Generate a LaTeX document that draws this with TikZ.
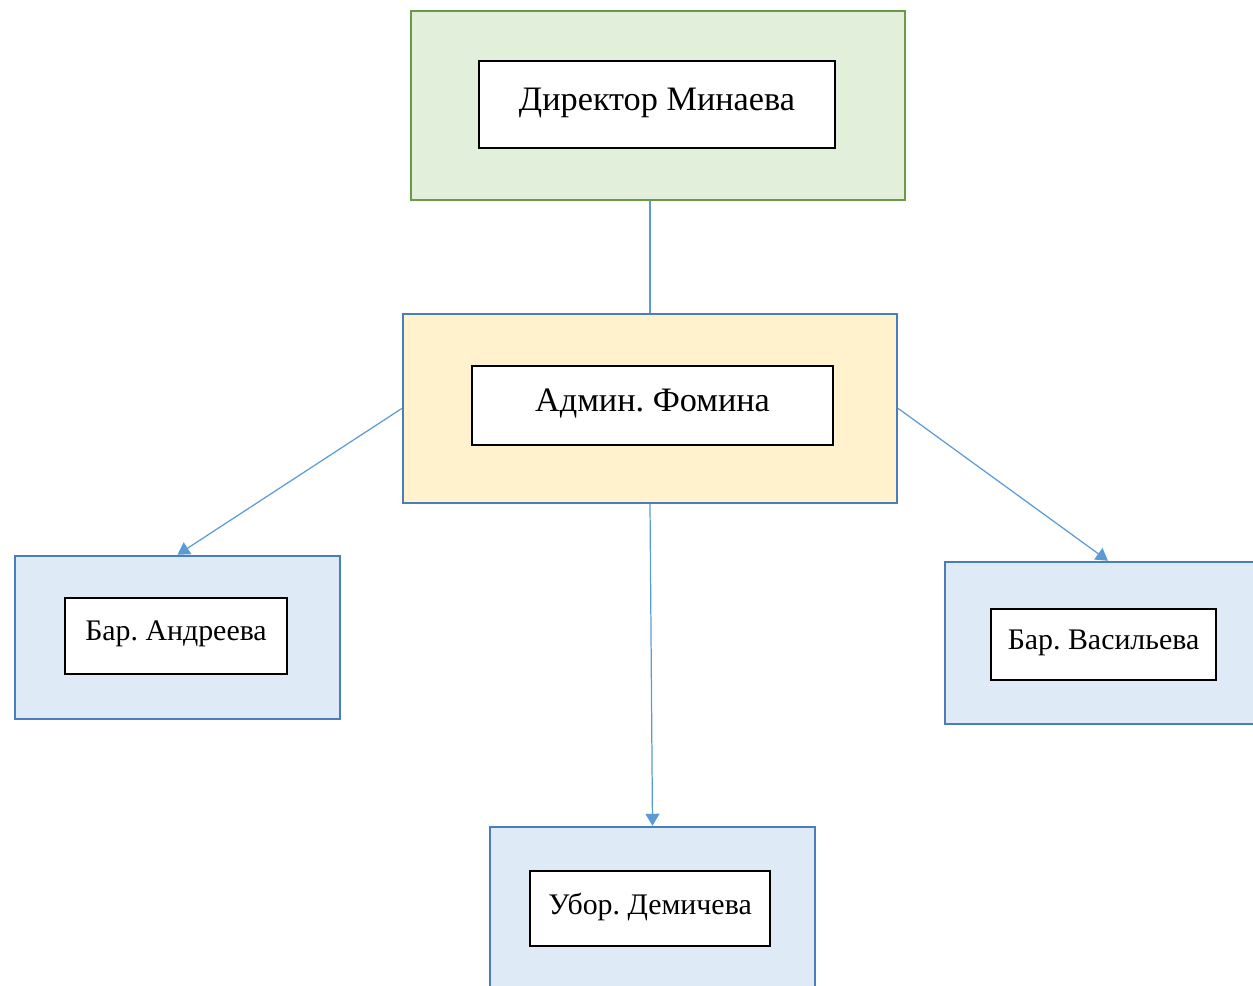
\documentclass[tikz,border=0pt]{standalone}
\usepackage{fontspec}
\setmainfont{Liberation Serif}
\frenchspacing
\usetikzlibrary{arrows.meta, positioning, calc}

\definecolor{dirfill}{HTML}{E2EFDA}
\definecolor{dirline}{HTML}{6A9A48}
\definecolor{admfill}{HTML}{FFF2CC}
\definecolor{staffill}{HTML}{DEEBF7}
\definecolor{boxline}{HTML}{4A7EBB}
\definecolor{linkcol}{HTML}{5B9BD5}

\begin{document}
\begin{tikzpicture}[
    >={Triangle[width=2.8mm, length=2.4mm]},
    % Estilos das caixas
    outer/.style={rectangle, line width=1.4pt, inner sep=0pt},
    chief/.style={outer, fill=dirfill, draw=dirline, minimum width=9.88cm, minimum height=3.78cm},
    admin/.style={outer, fill=admfill, draw=boxline, minimum width=9.88cm, minimum height=3.78cm},
    staff/.style={outer, fill=staffill, draw=boxline, minimum width=6.5cm, minimum height=3.26cm},
    label/.style={rectangle, draw=black, fill=white, line width=1.1pt, align=center, inner sep=0pt, text depth=0.58em},
    big/.style={font=\fontsize{19.5}{23}\selectfont},
    small/.style={font=\fontsize{17}{20}\selectfont},
    link/.style={draw=linkcol, line width=0.7pt}
]
    \useasboundingbox (0,0) rectangle (25.06,-19.72);
    \clip (0,0) rectangle (25.06,-19.72);

    % ================= 1. DIRETOR =================
    \node[chief] (dirbox) at (13.16, -2.11) {};
    \node[label, big, minimum width=7.12cm, minimum height=1.74cm] (dir) at (13.14, -2.09) {Директор Минаева};

    % ================= 2. ADMINISTRADOR =================
    \node[admin] (admbox) at (13.0, -8.17) {};
    \node[label, big, minimum width=7.22cm, minimum height=1.58cm] (adm) at (13.05, -8.11) {Админ. Фомина};

    % ================= 3. FUNCIONÁRIOS =================
    \node[staff] (andbox) at (3.55, -12.75) {};
    \node[label, small, minimum width=4.44cm, minimum height=1.52cm] (and) at (3.52, -12.72) {Бар. Андреева};

    \node[staff, minimum width=6.32cm, minimum height=3.24cm] (vasbox) at (22.06, -12.86) {};
    \node[label, small, minimum width=4.5cm, minimum height=1.42cm] (vas) at (22.07, -12.89) {Бар. Васильева};

    \node[staff, minimum height=3.32cm] (uborbox) at (13.05, -18.2) {};
    \node[label, small, minimum width=4.8cm, minimum height=1.5cm] (ubor) at (13.0, -18.17) {Убор. Демичева};

    % ================= LIGAÇÕES =================
    \draw[link] (admbox.north) -- (admbox.north |- dirbox.south);
    \draw[link, ->] (admbox.west) -- (andbox.north);
    \draw[link, ->] (admbox.east) -- ([xshift=1mm]vasbox.north);
    \draw[link, ->] (admbox.south) -- (uborbox.north);

\end{tikzpicture}
\end{document}
